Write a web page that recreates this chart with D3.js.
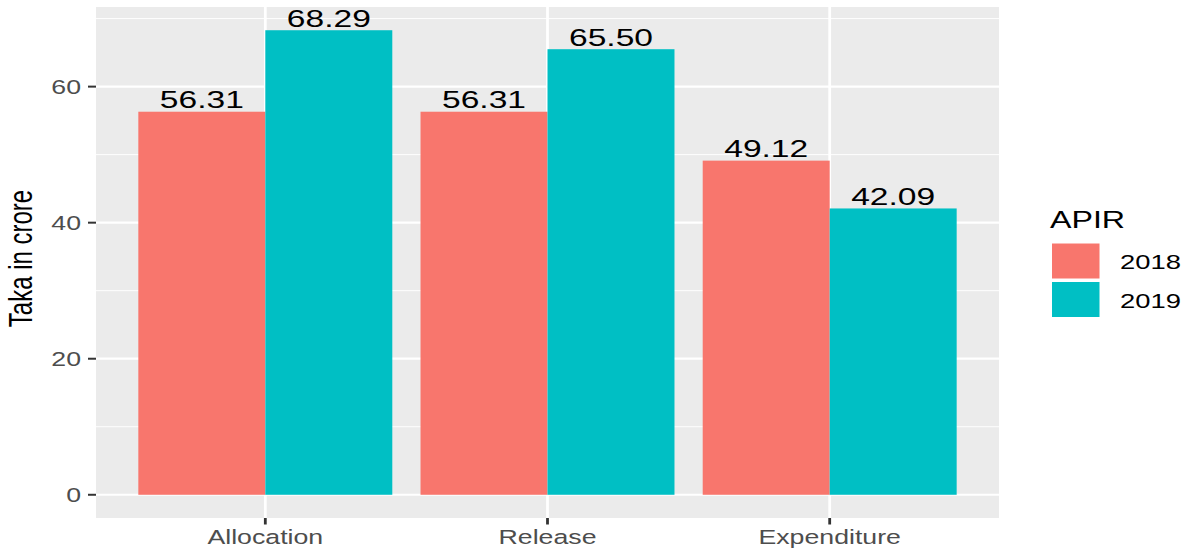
<!DOCTYPE html>
<html>
<head>
<meta charset="utf-8">
<script src="https://cdn.jsdelivr.net/npm/d3@7"></script>
<style>
  html, body { margin: 0; padding: 0; background: #fff; }
  svg { display: block; font-family: "Liberation Sans", Arial, sans-serif; }
</style>
</head>
<body>
<svg id="chart" width="1188" height="550"></svg>
<script>
// Fund flow (Taka in crore) by stage and year
const categories = ["Allocation", "Release", "Expenditure"];
const years = ["2018", "2019"];
const values2018 = [56.31, 56.31, 49.12];
const values2019 = [68.29, 65.50, 42.09];
const yTicks = [0, 20, 40, 60];
const yMinorTicks = [10, 30, 50, 70];
const yearColors = ["#F8766D", "#00BFC4"];

const seriesByYear = { "2018": values2018, "2019": values2019 };
const rows = [];
categories.forEach((c, i) => years.forEach(y => rows.push({ cat: c, year: y, value: seriesByYear[y][i] })));

const svg = d3.select("#chart");
const panel = { left: 96, right: 999, top: 7, bottom: 518 };
const SX = 1.37; // horizontal glyph stretch of all text

// ggplot-like 5% expansion of the data range
const maxV = d3.max(rows, d => d.value);
const pad = maxV * 0.05;
const y = d3.scaleLinear().domain([0 - pad, maxV + pad]).range([panel.bottom, panel.top]);
const x = d3.scalePoint().domain(categories).range([panel.left, panel.right]).padding(0.6);
const step = x.step();
const xSub = d3.scaleBand().domain(years).range([-0.45 * step, 0.45 * step]).padding(0);
const color = d3.scaleOrdinal().domain(years).range(yearColors);

function stretchedText(g, tx, ty, str, opts) {
  return g.append("text")
    .attr("transform", `translate(${tx},${ty}) scale(${SX},1)` + (opts.rotate ? ` rotate(${opts.rotate})` : ""))
    .attr("text-anchor", opts.anchor || "start")
    .attr("font-size", opts.size)
    .attr("fill", opts.fill || "#000")
    .text(str);
}

// panel background
svg.append("rect")
  .attr("x", panel.left).attr("y", panel.top)
  .attr("width", panel.right - panel.left).attr("height", panel.bottom - panel.top)
  .attr("fill", "#EBEBEB");

const grid = svg.append("g");
grid.selectAll("line.minor").data(yMinorTicks.filter(t => y(t) > panel.top)).join("line")
  .attr("x1", panel.left).attr("x2", panel.right)
  .attr("y1", d => y(d)).attr("y2", d => y(d))
  .attr("stroke", "#fff").attr("stroke-width", 1);
grid.selectAll("line.majory").data(yTicks).join("line")
  .attr("x1", panel.left).attr("x2", panel.right)
  .attr("y1", d => y(d)).attr("y2", d => y(d))
  .attr("stroke", "#fff").attr("stroke-width", 2.2);
grid.selectAll("line.majorx").data(categories).join("line")
  .attr("x1", d => x(d)).attr("x2", d => x(d))
  .attr("y1", panel.top).attr("y2", panel.bottom)
  .attr("stroke", "#fff").attr("stroke-width", 2.8);

// bars
svg.append("g").selectAll("rect").data(rows).join("rect")
  .attr("x", d => x(d.cat) + xSub(d.year))
  .attr("width", xSub.bandwidth())
  .attr("y", d => y(d.value))
  .attr("height", d => y(0) - y(d.value))
  .attr("fill", d => color(d.year));

// value labels
const labels = svg.append("g");
rows.forEach(d => {
  stretchedText(labels, x(d.cat) + xSub(d.year) + xSub.bandwidth() / 2, y(d.value) - 3.5,
    d.value.toFixed(2), { anchor: "middle", size: 24.5 });
});

// y axis
const yAxis = svg.append("g");
yTicks.forEach(t => {
  yAxis.append("line").attr("x1", panel.left - 8).attr("x2", panel.left)
    .attr("y1", y(t)).attr("y2", y(t)).attr("stroke", "#333").attr("stroke-width", 2);
  stretchedText(yAxis, panel.left - 15, y(t) + 7, String(t), { anchor: "end", size: 19.5, fill: "#4D4D4D" });
});
stretchedText(yAxis, 32, 258.5, "Taka in crore", { anchor: "middle", size: 24, rotate: -90 });

// x axis
const xAxis = svg.append("g");
categories.forEach(c => {
  xAxis.append("line").attr("x1", x(c)).attr("x2", x(c))
    .attr("y1", panel.bottom).attr("y2", panel.bottom + 6.5).attr("stroke", "#333").attr("stroke-width", 2.8);
  stretchedText(xAxis, x(c), 544, c, { anchor: "middle", size: 19.5, fill: "#4D4D4D" });
});

// legend
const legend = svg.append("g");
stretchedText(legend, 1050, 227.5, "APIR", { size: 23.5 });
years.forEach((yr, i) => {
  const top = 243 + i * 38.5;
  legend.append("rect").attr("x", 1051.5).attr("y", top).attr("width", 48.5).attr("height", 36)
    .attr("fill", color(yr)).attr("stroke", "#fff").attr("stroke-width", 1);
  stretchedText(legend, 1120, top + 26.3, yr, { size: 20 });
});
</script>
</body>
</html>
